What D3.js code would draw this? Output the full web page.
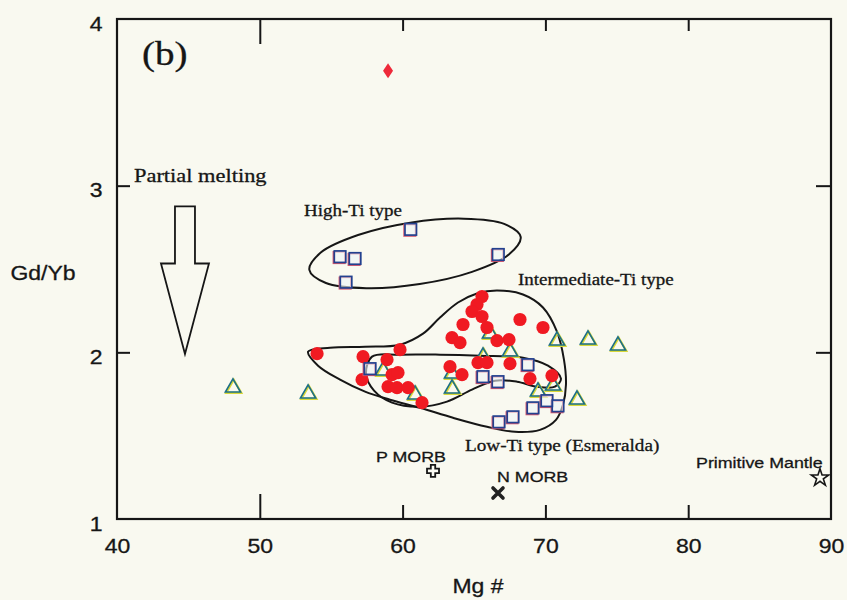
<!DOCTYPE html>
<html>
<head>
<meta charset="utf-8">
<script src="https://cdn.jsdelivr.net/npm/d3@7/dist/d3.min.js"></script>
<style>
  html, body { margin: 0; padding: 0; background: #f9f9f0; }
  svg { display: block; }
</style>
</head>
<body>
<svg id="chart" width="847" height="600"></svg>
<script>
// ---- data (Mg#, Gd/Yb) ----
const xTicks = [40, 50, 60, 70, 80, 90];
const yTicks = [1, 2, 3, 4];

const highTiSquares = [
  [60.57, 2.738], [55.62, 2.574], [56.67, 2.563], [56.04, 2.421], [66.70, 2.587]
];
const squareSamples = [
  [57.72, 1.902], [68.78, 1.926], [65.63, 1.854], [66.68, 1.824], [70.11, 1.710],
  [69.13, 1.667], [70.88, 1.679], [66.75, 1.583], [67.73, 1.613]
];
const circleSamples = [
  [54.01, 1.992], [57.23, 1.974], [58.91, 1.956], [59.82, 2.016], [57.16, 1.836],
  [59.26, 1.866], [59.68, 1.878], [58.98, 1.794], [59.61, 1.788], [60.38, 1.788],
  [61.36, 1.698], [65.56, 2.335], [65.21, 2.287], [64.86, 2.245], [65.56, 2.215],
  [64.23, 2.167], [65.91, 2.149], [68.22, 2.197], [69.83, 2.149], [63.46, 2.088],
  [64.02, 2.058], [66.61, 2.070], [67.45, 2.076], [63.32, 1.914], [64.16, 1.866],
  [65.28, 1.938], [65.91, 1.938], [67.52, 1.932], [68.92, 1.842], [70.46, 1.860]
];
const triangleSamples = [
  [48.12, 1.788], [53.38, 1.752], [58.63, 1.890], [60.87, 1.746], [63.46, 1.782],
  [63.46, 1.872], [66.12, 2.112], [67.52, 2.004], [65.63, 1.974], [69.48, 1.764],
  [70.53, 1.800], [70.81, 2.070], [72.98, 2.076], [75.08, 2.040], [72.21, 1.716]
];
const diamondSample = [[58.98, 3.69]];
const pMorb = [[62.13, 1.289]];
const nMorb = [[66.68, 1.156]];
const primitiveMantle = [[89.23, 1.247]];

// field outlines
const highTiField = [
  [68.27, 2.692], [67.44, 2.587], [64.86, 2.483], [61.20, 2.410], [57.45, 2.385],
  [54.63, 2.416], [53.47, 2.495], [54.29, 2.600], [56.88, 2.704], [60.54, 2.778],
  [64.29, 2.802], [67.11, 2.771]
];
const intermediateTiField = [
  [53.38, 2.004], [54.92, 2.028], [57.37, 2.034], [59.82, 2.046], [61.43, 2.112],
  [62.62, 2.209], [63.88, 2.299], [65.21, 2.353], [66.61, 2.371], [68.43, 2.347],
  [69.83, 2.269], [70.81, 2.124], [71.30, 1.956], [71.44, 1.806], [71.23, 1.686],
  [70.74, 1.595], [69.62, 1.535], [67.87, 1.523], [65.91, 1.553], [63.53, 1.607],
  [61.22, 1.667], [59.12, 1.716], [57.37, 1.764], [55.62, 1.836], [54.08, 1.920]
];
const lowTiField = [
  [57.86, 1.974], [59.82, 1.986], [62.62, 1.986], [65.42, 1.980], [68.43, 1.968],
  [70.18, 1.920], [71.09, 1.842], [70.67, 1.794], [69.41, 1.794], [68.01, 1.824],
  [66.47, 1.830], [64.86, 1.776], [63.11, 1.704], [61.22, 1.673], [59.26, 1.698],
  [58.00, 1.770], [57.44, 1.872]
];
// partial melting arrow: x centre, top, head base, tip (data units)
const meltArrow = { x: 44.76, top: 2.876, base: 2.533, tip: 1.99 };

// ---- layout ----
const svg = d3.select('#chart');
const x = d3.scaleLinear().domain([40, 90]).range([117, 831]);
const y = d3.scaleLinear().domain([1, 4]).range([519, 19]);
const SANS = '"Liberation Sans", Arial, sans-serif';
const SERIF = '"Liberation Serif", "Times New Roman", serif';
const STRETCH = 1.15;
const INK = '#161616';

function label(txt, px, py, size, family, anchor) {
  return svg.append('text')
    .attr('transform', `translate(${px},${py}) scale(${STRETCH},1)`)
    .attr('text-anchor', anchor || 'start')
    .attr('font-family', family)
    .attr('font-size', size)
    .attr('fill', INK)
    .attr('stroke', INK)
    .attr('stroke-width', family === SANS ? 0.3 : 0.3)
    .text(txt);
}

// axes (inward ticks)
const gx = svg.append('g').attr('transform', `translate(0,${y(1)})`)
  .call(d3.axisBottom(x).tickValues(xTicks).tickSize(-13).tickFormat(d3.format('d')));
gx.selectAll('.tick line').attr('y2', d => d === 50 ? -25 : -14)
  .attr('stroke', INK).attr('stroke-width', 2)
  .attr('display', d => (d === 40 || d === 90) ? 'none' : null);
gx.selectAll('.tick text').attr('y', 34).attr('dy', null)
  .attr('transform', `scale(${STRETCH},1)`)
  .attr('font-family', SANS).attr('font-size', 20).attr('fill', INK)
  .attr('stroke', INK).attr('stroke-width', 0.3);

const gy = svg.append('g').attr('transform', `translate(${x(40)},0)`)
  .call(d3.axisLeft(y).tickValues(yTicks).tickSize(-13).tickFormat(d3.format('d')));
gy.selectAll('.tick line').attr('stroke', INK).attr('stroke-width', 2)
  .attr('display', d => (d === 1 || d === 4) ? 'none' : null);
gy.selectAll('.tick text').attr('x', -12.5).attr('dy', null).attr('y', 11)
  .attr('text-anchor', 'end')
  .attr('transform', `scale(${STRETCH},1)`)
  .attr('font-family', SANS).attr('font-size', 20).attr('fill', INK)
  .attr('stroke', INK).attr('stroke-width', 0.3);

const gt = svg.append('g').attr('transform', `translate(0,${y(4)})`)
  .call(d3.axisTop(x).tickValues([50, 60, 70, 80]).tickSize(-12).tickFormat(''));
gt.selectAll('.tick line').attr('y2', d => d === 50 ? 25 : 12)
  .attr('stroke', INK).attr('stroke-width', 2);

const gr = svg.append('g').attr('transform', `translate(${x(90)},0)`)
  .call(d3.axisRight(y).tickValues([2, 3]).tickSize(-15).tickFormat(''));
gr.selectAll('.tick line').attr('stroke', INK).attr('stroke-width', 2);

svg.selectAll('.domain').remove();

// frame
svg.append('rect')
  .attr('x', x(40)).attr('y', y(4))
  .attr('width', x(90) - x(40)).attr('height', y(1) - y(4))
  .attr('fill', 'none').attr('stroke', INK).attr('stroke-width', 2.2);

// axis titles
label('Mg #', 478, 593, 20, SANS, 'middle');
label('Gd/Yb', 43, 280, 20, SANS, 'middle');

// panel label
label('(b)', 142, 65, 34, SERIF);

// partial melting arrow
const ax = x(meltArrow.x);
const shaftW = 10, headW = 24;
const arrowPts = [
  [ax - shaftW, y(meltArrow.top)], [ax + shaftW, y(meltArrow.top)],
  [ax + shaftW, y(meltArrow.base)], [ax + headW, y(meltArrow.base)],
  [ax, y(meltArrow.tip)], [ax - headW, y(meltArrow.base)],
  [ax - shaftW, y(meltArrow.base)]
];
svg.append('path')
  .attr('d', 'M' + arrowPts.map(p => p.join(',')).join('L') + 'Z')
  .attr('fill', 'none').attr('stroke', INK).attr('stroke-width', 1.8)
  .attr('stroke-linejoin', 'miter');
label('Partial melting', 134, 182, 19.5, SERIF);

// field outlines
const outline = d3.line().x(d => x(d[0])).y(d => y(d[1]))
  .curve(d3.curveCatmullRomClosed.alpha(0.5));
[highTiField, intermediateTiField, lowTiField].forEach(f => {
  svg.append('path').attr('d', outline(f))
    .attr('fill', 'none').attr('stroke', INK).attr('stroke-width', 2);
});

label('High-Ti type', 304, 216, 16.5, SERIF);
label('Intermediate-Ti type', 518, 285, 16.5, SERIF);
label('Low-Ti type (Esmeralda)', 465, 451, 16.7, SERIF);

// triangles
const tri = d3.symbol().type(d3.symbolTriangle).size(100);
const gTri = svg.append('g');
gTri.selectAll('path.tb').data(triangleSamples).join('path')
  .attr('class', 'tb')
  .attr('transform', d => `translate(${x(d[0]) + 0.8},${y(d[1]) + 0.8})`)
  .attr('d', tri).attr('fill', 'none').attr('stroke', '#d9d83a').attr('stroke-width', 2.2);
gTri.selectAll('path.tf').data(triangleSamples).join('path')
  .attr('class', 'tf')
  .attr('transform', d => `translate(${x(d[0])},${y(d[1])})`)
  .attr('d', tri).attr('fill', 'none').attr('stroke', '#1d6f86').attr('stroke-width', 1.6);

// red circles
svg.append('g').selectAll('circle').data(circleSamples).join('circle')
  .attr('cx', d => x(d[0])).attr('cy', d => y(d[1])).attr('r', 6.6)
  .attr('fill', '#f01a22');

// squares
const sq = 11.5;
const gSq = svg.append('g');
const allSquares = highTiSquares.concat(squareSamples);
gSq.selectAll('rect.sb').data(allSquares).join('rect')
  .attr('class', 'sb')
  .attr('x', d => x(d[0]) - sq / 2 - 0.9).attr('y', d => y(d[1]) - sq / 2 + 0.9)
  .attr('width', sq).attr('height', sq)
  .attr('fill', 'none').attr('stroke', '#d8566a').attr('stroke-width', 1.6);
gSq.selectAll('rect.sf').data(allSquares).join('rect')
  .attr('class', 'sf')
  .attr('x', d => x(d[0]) - sq / 2).attr('y', d => y(d[1]) - sq / 2)
  .attr('width', sq).attr('height', sq)
  .attr('fill', '#edf3f6').attr('fill-opacity', 0.6)
  .attr('stroke', '#23418f').attr('stroke-width', 1.7);

// red diamond
svg.selectAll('path.dia').data(diamondSample).join('path')
  .attr('class', 'dia')
  .attr('transform', d => `translate(${x(d[0])},${y(d[1])})`)
  .attr('d', 'M0,-7.5L5,0L0,7.5L-5,0Z')
  .attr('fill', '#ee2a3a');

// P MORB: open cross
const plusPath = 'M-2.2,-6L2.2,-6L2.2,-2.2L6,-2.2L6,2.2L2.2,2.2L2.2,6L-2.2,6L-2.2,2.2L-6,2.2L-6,-2.2L-2.2,-2.2Z';
svg.selectAll('path.pm').data(pMorb).join('path')
  .attr('class', 'pm')
  .attr('transform', d => `translate(${x(d[0])},${y(d[1])})`)
  .attr('d', plusPath).attr('fill', '#fbfbf3')
  .attr('stroke', INK).attr('stroke-width', 1.8);
label('P MORB', 411, 462, 15.5, SANS, 'middle');

// N MORB: bold x
svg.selectAll('path.nm').data(nMorb).join('path')
  .attr('class', 'nm')
  .attr('transform', d => `translate(${x(d[0])},${y(d[1])})`)
  .attr('d', 'M-5,-5L5,5M5,-5L-5,5')
  .attr('stroke', '#222').attr('stroke-width', 3.6).attr('stroke-linecap', 'round');
label('N MORB', 497, 482, 15.5, SANS);

// Primitive mantle: open star
svg.selectAll('path.pmn').data(primitiveMantle).join('path')
  .attr('class', 'pmn')
  .attr('transform', d => `translate(${x(d[0])},${y(d[1])})`)
  .attr('d', d3.symbol().type(d3.symbolStar).size(95))
  .attr('fill', '#fbfbf3').attr('stroke', INK).attr('stroke-width', 1.6)
  .attr('stroke-linejoin', 'miter');
label('Primitive Mantle', 696, 468, 15.5, SANS);
</script>
</body>
</html>
